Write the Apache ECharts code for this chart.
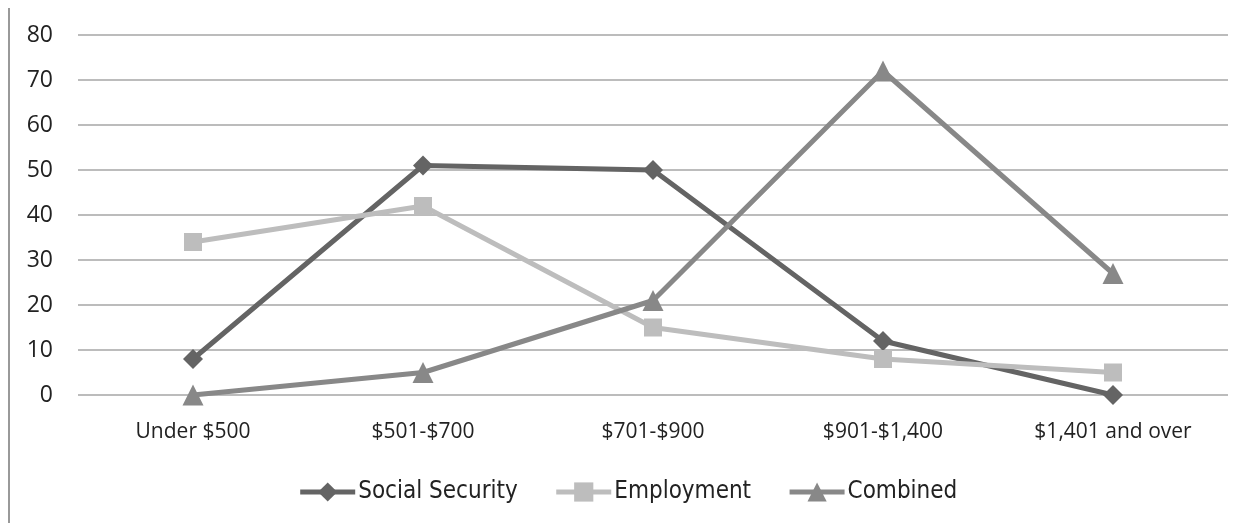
<!DOCTYPE html>
<html><head><meta charset="utf-8">
<script src="https://cdn.jsdelivr.net/npm/echarts@6/dist/echarts.min.js"></script>
<style>html,body{margin:0;padding:0;background:#fff}#c{width:1255px;height:523px}</style>
</head><body><div id="c"></div>
<script>
const categories = ["Under $500", "$501-$700", "$701-$900", "$901-$1,400", "$1,401 and over"];
const socialSecurity = [8, 51, 50, 12, 0];
const employment = [34, 42, 15, 8, 5];
const combined = [0, 5, 21, 72, 27];
const yTicks = [0, 10, 20, 30, 40, 50, 60, 70, 80];

const font = "'Open Sans', 'Noto Sans', sans-serif";
const chart = echarts.init(document.getElementById('c'), null, {renderer: 'canvas'});
function mk(name, data, color, symbol, size) {
  return {
    name, type: 'line', data, symbol, symbolSize: size,
    lineStyle: {color, width: 5}, itemStyle: {color},
    emphasis: {disabled: true}, z: 3
  };
}
chart.setOption({
  animation: false,
  grid: {left: 78, right: 27, top: 35, bottom: 128, containLabel: false},
  graphic: [{type: 'line', shape: {x1: 9, y1: 8, x2: 9, y2: 523}, style: {stroke: '#999', lineWidth: 2}}],
  xAxis: {
    type: 'category', data: categories, boundaryGap: true,
    axisLine: {show: false}, axisTick: {show: false},
    axisLabel: {color: '#222', fontSize: 21, fontFamily: font, margin: 27}
  },
  yAxis: {
    type: 'value', min: yTicks[0], max: yTicks[yTicks.length - 1], interval: 10,
    axisLine: {show: false}, axisTick: {show: false},
    axisLabel: {color: '#222', fontSize: 23, fontFamily: font, margin: 25},
    splitLine: {lineStyle: {color: '#a6a6a6', width: 1.5}}
  },
  legend: {
    bottom: 14, left: 'center', itemWidth: 55, itemHeight: 24, itemGap: 36,
    lineStyle: {width: 5},
    textStyle: {color: '#222', fontSize: 24, fontFamily: "'Liberation Sans Narrow', 'DejaVu Sans Condensed', sans-serif", padding: [0, 0, 0, -2]},
    data: ['Social Security', 'Employment', 'Combined']
  },
  series: [
    mk('Social Security', socialSecurity, '#646464', 'diamond', 20),
    mk('Employment', employment, '#bdbdbd', 'rect', 18),
    mk('Combined', combined, '#888888', 'triangle', 21)
  ]
});
</script></body></html>
